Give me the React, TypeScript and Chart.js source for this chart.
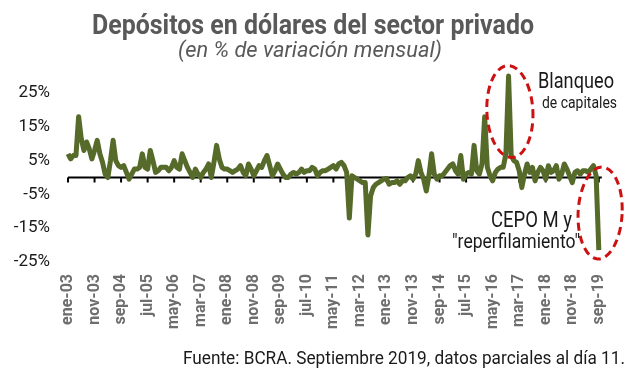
import React, { useEffect, useRef } from 'react';
import { Chart, registerables } from 'chart.js';

Chart.register(...registerables);

const monthNames = ['ene', 'feb', 'mar', 'abr', 'may', 'jun', 'jul', 'ago', 'sep', 'oct', 'nov', 'dic'];

const values: number[] = [
  7.0, 5.5, 6.5, 6.5, 18.0, 11.5, 8.0, 10.5, 8.5, 5.5,
  8.0, 11.0, 7.0, 4.5, 1.0, 0.0, 5.0, 11.0, 5.0, 3.5,
  3.0, 3.5, 1.5, -0.5, 1.0, 2.5, 2.5, 3.0, 7.0, 3.0,
  2.5, 8.0, 5.0, 1.5, 2.0, 3.0, 3.0, 3.0, 2.0, 3.0,
  5.0, 3.0, 2.5, 7.0, 5.0, 3.0, 1.5, 0.0, 2.5, 1.0,
  0.0, 1.5, 2.5, 4.0, 0.0, 4.5, 9.5, 5.5, 3.0, 2.5,
  2.5, 2.0, 1.5, 2.0, 2.5, 3.5, 1.5, 0.5, 4.0, 2.5,
  0.5, 2.0, 3.5, 3.0, 5.0, 6.5, 3.5, 0.5, 2.0, 4.0,
  2.5, 1.0, 0.0, 0.0, 1.0, 1.5, 1.0, 1.5, 2.5, 1.5,
  2.0, 2.0, 3.0, 2.5, 0.5, 1.5, 2.0, 2.0, 2.5, 3.0,
  3.5, 2.5, 4.0, 4.5, 3.5, 1.5, -12.0, 0.5, 0.0, -0.5,
  -1.0, -1.5, -1.5, -17.0, -5.5, -3.0, -2.0, -1.5, -1.0, -0.5,
  -0.3, -2.0, -1.5, -1.5, -1.0, -2.0, -1.0, -1.0, 0.0, 0.5,
  -0.5, 1.0, 5.0, 1.5, -0.5, -4.0, 0.5, 7.0, 1.0, -0.5,
  0.5, 0.5, 1.5, 2.5, 3.5, 4.0, 2.0, 1.0, 6.5, -0.5,
  1.0, 1.5, 1.0, 9.5, 2.0, 1.0, 4.0, 18.0, 3.0, 0.5,
  -1.0, 1.5, 2.5, 3.0, 3.0, 7.0, 30.0, 6.5, 5.0, 4.5,
  2.0, -3.0, 1.0, 4.0, 1.5, 3.0, -1.0, 1.5, 3.0, 2.0,
  -0.5, 3.5, 1.5, 2.0, 3.5, -0.5, 1.0, 4.0, 2.5, 0.5,
  -1.5, 1.5, 2.0, 1.0, 2.0, 2.0, 1.5, 2.5, 3.5, 0.5,
  -21.5,
];

const categories: string[] = values.map((_, i) => {
  const m = i % 12;
  const y = 3 + Math.floor(i / 12);
  return `${monthNames[m]}-${String(y).padStart(2, '0')}`;
});

const tickLabels: string[] = [
  'ene-03', 'nov-03', 'sep-04', 'jul-05', 'may-06', 'mar-07', 'ene-08', 'nov-08', 'sep-09', 'jul-10', 'may-11',
  'mar-12', 'ene-13', 'nov-13', 'sep-14', 'jul-15', 'may-16', 'mar-17', 'ene-18', 'nov-18', 'sep-19',
];

const yTicks: number[] = [-25, -15, -5, 5, 15, 25];

const TITLE = 'Depósitos en dólares del sector privado';
const SUBTITLE = '(en % de variación mensual)';
const SOURCE = 'Fuente: BCRA. Septiembre 2019, datos parciales al día 11.';
const NOTE1 = ['Blanqueo', 'de capitales'];
const NOTE2 = ['CEPO M y', '"reperfilamiento"'];

const LINE_COLOR = '#566a2a';
const RED = '#cc1111';

function fitText(
  ctx: CanvasRenderingContext2D,
  text: string,
  x: number,
  y: number,
  font: string,
  color: string,
  width: number,
  align: 'left' | 'center' | 'right'
) {
  ctx.save();
  ctx.font = font;
  const w = ctx.measureText(text).width;
  const s = width / w;
  ctx.translate(x, y);
  ctx.scale(s, 1);
  ctx.fillStyle = color;
  ctx.textAlign = 'left';
  ctx.textBaseline = 'alphabetic';
  const ox = align === 'center' ? -w / 2 : align === 'right' ? -w : 0;
  ctx.fillText(text, ox, 0);
  ctx.restore();
}

const decorPlugin = {
  id: 'decor',
  beforeDatasetsDraw(chart: any) {
    const { ctx, chartArea, scales } = chart;
    const xs = scales.x;
    const ys = scales.y;
    const y0 = ys.getPixelForValue(0);
    ctx.save();
    ctx.strokeStyle = '#000';
    ctx.lineWidth = 2;
    ctx.beginPath();
    ctx.moveTo(chartArea.left, y0);
    ctx.lineTo(chartArea.right + 3, y0);
    ctx.stroke();
    categories.forEach((c, i) => {
      if (tickLabels.includes(c)) {
        const x = xs.getPixelForValue(i);
        ctx.beginPath();
        ctx.moveTo(x, y0);
        ctx.lineTo(x, y0 + 5);
        ctx.stroke();
      }
    });
    ctx.restore();
  },
  afterDraw(chart: any) {
    const { ctx, scales } = chart;
    const xs = scales.x;
    const ys = scales.y;
    fitText(ctx, TITLE, 313, 34, 'bold 28px Roboto', '#595959', 442, 'center');
    fitText(ctx, SUBTITLE, 310, 57, 'italic 22px Roboto', '#595959', 264, 'center');
    fitText(ctx, SOURCE, 625, 364, '18px Roboto', '#1a1a1a', 442, 'right');

    ctx.save();
    ctx.strokeStyle = RED;
    ctx.lineWidth = 3;
    ctx.setLineDash([8, 5]);
    const cx1 = xs.getPixelForValue(166.5);
    const cy1 = ys.getPixelForValue(19.5);
    ctx.beginPath();
    ctx.ellipse(cx1, cy1, 23, 46, -0.05, 0, Math.PI * 2);
    ctx.stroke();
    const cx2 = xs.getPixelForValue(200.5);
    const cy2 = ys.getPixelForValue(-10.5);
    ctx.beginPath();
    ctx.ellipse(cx2, cy2, 22, 46, 0.05, 0, Math.PI * 2);
    ctx.stroke();
    ctx.restore();

    fitText(ctx, NOTE1[0], 538, 88, '22px Roboto', '#1a1a1a', 76, 'left');
    fitText(ctx, NOTE1[1], 542, 108, '16px Roboto', '#1a1a1a', 75, 'left');
    fitText(ctx, NOTE2[0], 572, 227, '22px Roboto', '#1a1a1a', 81, 'right');
    fitText(ctx, NOTE2[1], 580, 248, '20px Roboto', '#1a1a1a', 128, 'right');
  },
};

export default function App() {
  const canvasRef = useRef<HTMLCanvasElement | null>(null);

  useEffect(() => {
    const canvas = canvasRef.current;
    if (!canvas) return;
    const chart = new Chart(canvas, {
      type: 'line',
      data: {
        labels: categories,
        datasets: [
          {
            data: values,
            borderColor: LINE_COLOR,
            borderWidth: 5,
            pointRadius: 0,
            tension: 0,
            fill: false,
            clip: false as any,
            borderJoinStyle: 'round',
          },
        ],
      },
      options: {
        responsive: false,
        animation: false,
        layout: { padding: { top: 72.7, right: 28, left: 0, bottom: 0 } },
        plugins: {
          legend: { display: false },
          tooltip: { enabled: false },
          title: { display: false },
        },
        scales: {
          x: {
            type: 'category',
            offset: false,
            grid: { display: false, drawTicks: false },
            border: { display: false },
            ticks: {
              autoSkip: false,
              maxRotation: 90,
              minRotation: 90,
              padding: 12,
              color: '#6e6e6e',
              font: { family: 'Roboto', size: 16, weight: 'bold' },
              callback: (_v: any, i: number) => (tickLabels.includes(categories[i]) ? categories[i] : ''),
            },
            afterFit: (scale: any) => {
              scale.height = 108;
            },
          },
          y: {
            min: -25,
            max: 31,
            grid: { display: false, drawTicks: false },
            border: { display: false },
            afterBuildTicks: (scale: any) => {
              scale.ticks = yTicks.map((v) => ({ value: v }));
            },
            ticks: {
              padding: 18,
              color: '#1a1a1a',
              font: { family: 'Roboto', size: 17 },
              callback: (v: any) => `${v}%`,
            },
            afterFit: (scale: any) => {
              scale.width = 68;
            },
          },
        },
      },
      plugins: [decorPlugin],
    });
    return () => chart.destroy();
  }, []);

  return (
    <div style={{ position: 'fixed', left: 0, top: 0, width: 630, height: 370, background: '#fff' }}>
      <canvas ref={canvasRef} width={630} height={370} style={{ display: 'block' }} />
    </div>
  );
}
